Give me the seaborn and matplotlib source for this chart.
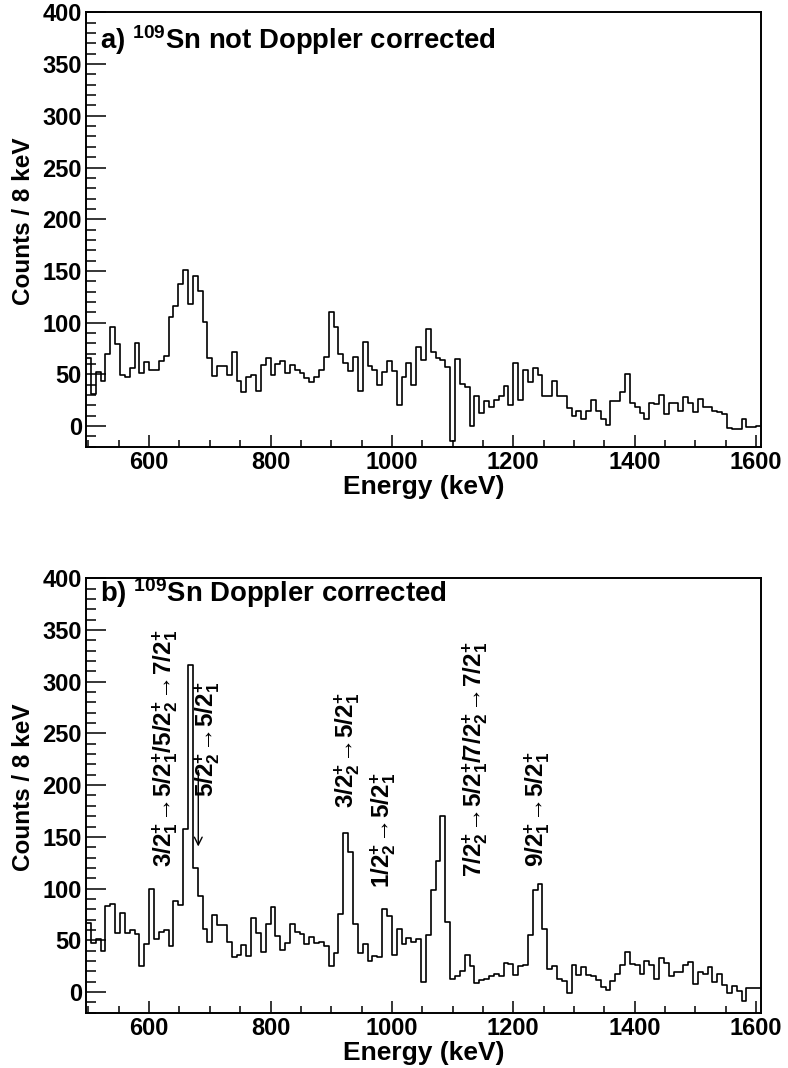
import numpy as np
import pandas as pd
import seaborn as sns
import matplotlib.pyplot as plt
from matplotlib.ticker import MultipleLocator

# 8 keV bins, 496 - 1608 keV
edges = np.arange(496, 1609, 8)
centers = edges[:-1] + 4

# a) not Doppler corrected
counts_a = [66, 31, 52, 44, 70, 96, 79, 49, 47, 56,
            80, 51, 62, 54, 54, 63, 68, 105, 116, 137,
            151, 118, 145, 131, 101, 66, 48, 58, 58, 49,
            72, 44, 33, 47, 49, 34, 59, 66, 49, 60,
            63, 51, 59, 54, 51, 46, 43, 47, 54, 67,
            110, 96, 70, 61, 53, 67, 34, 81, 58, 54,
            40, 52, 63, 53, 20, 47, 61, 40, 76, 64,
            94, 72, 66, 64, 57, -14, 65, 41, 38, 0,
            29, 13, 24, 18, 25, 29, 39, 20, 61, 25,
            54, 43, 56, 49, 29, 29, 44, 29, 29, 17,
            10, 15, 7, 15, 25, 15, 7, 1, 24, 24,
            33, 50, 22, 18, 13, 7, 22, 21, 30, 12,
            22, 22, 15, 28, 22, 14, 26, 18, 18, 15,
            14, 12, -2, -3, -3, 7, -1, -1, 0]

# b) Doppler corrected
counts_b = [67, 47, 51, 40, 83, 85, 57, 76, 57, 60,
            56, 25, 46, 100, 51, 58, 60, 44, 88, 84,
            158, 316, 120, 93, 61, 48, 74, 65, 65, 48,
            34, 36, 45, 35, 72, 57, 39, 66, 82, 54,
            41, 47, 66, 58, 56, 46, 53, 47, 48, 44,
            25, 38, 75, 154, 135, 66, 38, 46, 30, 35,
            34, 80, 73, 36, 61, 46, 52, 48, 51, 10,
            55, 99, 127, 170, 68, 13, 15, 20, 36, 25,
            9, 12, 13, 15, 17, 15, 28, 27, 16, 25,
            26, 55, 99, 104, 61, 22, 25, 13, 11, -1,
            26, 16, 24, 16, 15, 12, 5, 2, 11, 17,
            26, 39, 27, 26, 17, 30, 26, 13, 33, 28,
            15, 19, 19, 26, 29, 8, 19, 17, 24, 10,
            17, 7, -1, 6, 1, -9, 4, 4, 4]

# transition labels: text, x (keV), y (counts, bottom of text)
arr = r'\!\rightarrow\!'
labels = [r'$3/2^{+}_{1}' + arr + r'5/2^{+}_{1}/5/2^{+}_{2}' + arr + r'7/2^{+}_{1}$',
          r'$5/2^{+}_{2}' + arr + r'5/2^{+}_{1}$',
          r'$3/2^{+}_{2}' + arr + r'5/2^{+}_{1}$',
          r'$1/2^{+}_{2}' + arr + r'5/2^{+}_{1}$',
          r'$7/2^{+}_{2}' + arr + r'5/2^{+}_{1}/7/2^{+}_{2}' + arr + r'7/2^{+}_{1}$',
          r'$9/2^{+}_{1}' + arr + r'5/2^{+}_{1}$']
label_x = [627, 696, 926, 985, 1137, 1240]
label_y = [121, 189, 178, 101, 111, 121]

df = pd.DataFrame({'energy': np.concatenate([centers, centers]),
                   'counts': counts_a + counts_b,
                   'panel': ['a'] * len(counts_a) + ['b'] * len(counts_b)})

sns.set_style('ticks')
plt.rcParams['font.family'] = ['Liberation Sans', 'DejaVu Sans']
plt.rcParams['font.weight'] = 'bold'
plt.rcParams['axes.labelweight'] = 'bold'
plt.rcParams['text.color'] = 'black'
plt.rcParams['axes.labelcolor'] = 'black'
plt.rcParams['xtick.color'] = 'black'
plt.rcParams['ytick.color'] = 'black'
plt.rcParams['mathtext.fontset'] = 'custom'
plt.rcParams['mathtext.bf'] = 'Liberation Sans:bold'
plt.rcParams['mathtext.rm'] = 'Liberation Sans:bold'
plt.rcParams['mathtext.default'] = 'bf'

fig = plt.figure(figsize=(7.88, 10.68), dpi=100)
ax_a = fig.add_axes([0.1091, 0.5817, 0.8566, 0.4067])
ax_b = fig.add_axes([0.1091, 0.0518, 0.8566, 0.4067])

for ax, p in [(ax_a, 'a'), (ax_b, 'b')]:
    sns.histplot(data=df[df.panel == p], x='energy', weights='counts',
                 binwidth=8, binrange=(496, 1608),
                 element='step', fill=False, color='black', linewidth=1.2, ax=ax)
    ax.set_xlim(496, 1608)
    ax.set_ylim(-20, 400)
    ax.xaxis.set_major_locator(MultipleLocator(200))
    ax.xaxis.set_minor_locator(MultipleLocator(50))
    ax.yaxis.set_major_locator(MultipleLocator(50))
    ax.yaxis.set_minor_locator(MultipleLocator(10))
    ax.tick_params(axis='both', which='both', direction='in', width=1.1,
                   labelsize=17, pad=3, top=False, right=False, colors='black')
    ax.tick_params(axis='y', which='major', length=14.4)
    ax.tick_params(axis='y', which='minor', length=7.2)
    ax.tick_params(axis='x', which='major', length=9)
    ax.tick_params(axis='x', which='minor', length=4.8)
    for s in ax.spines.values():
        s.set_visible(True)
        s.set_linewidth(1.4)
        s.set_color('black')
    ax.set_xlabel('Energy (keV)', fontsize=19, fontweight='bold', color='black')
    ax.set_ylabel('Counts / 8 keV', fontsize=17.5, fontweight='bold', color='black')
    ax.xaxis.set_label_coords(0.5, -0.065)
    ax.yaxis.set_label_coords(-0.075, 0.711)
    ax.yaxis.label.set_horizontalalignment('right')

ax_a.text(519, 365, r'a) $^{109}$Sn not Doppler corrected', fontsize=19.8, fontweight='bold')
ax_b.text(519, 377, r'b) $^{109}$Sn Doppler corrected', fontsize=19.8, fontweight='bold')

for t, x, y in zip(labels, label_x, label_y):
    ax_b.text(x, y, t, rotation=90, ha='center', va='bottom', fontsize=17.5)

ax_b.annotate('', xy=(681, 138), xytext=(681, 217),
              arrowprops=dict(arrowstyle='->', color='black', lw=1, mutation_scale=14))

fig.savefig('out.png', dpi=100)
